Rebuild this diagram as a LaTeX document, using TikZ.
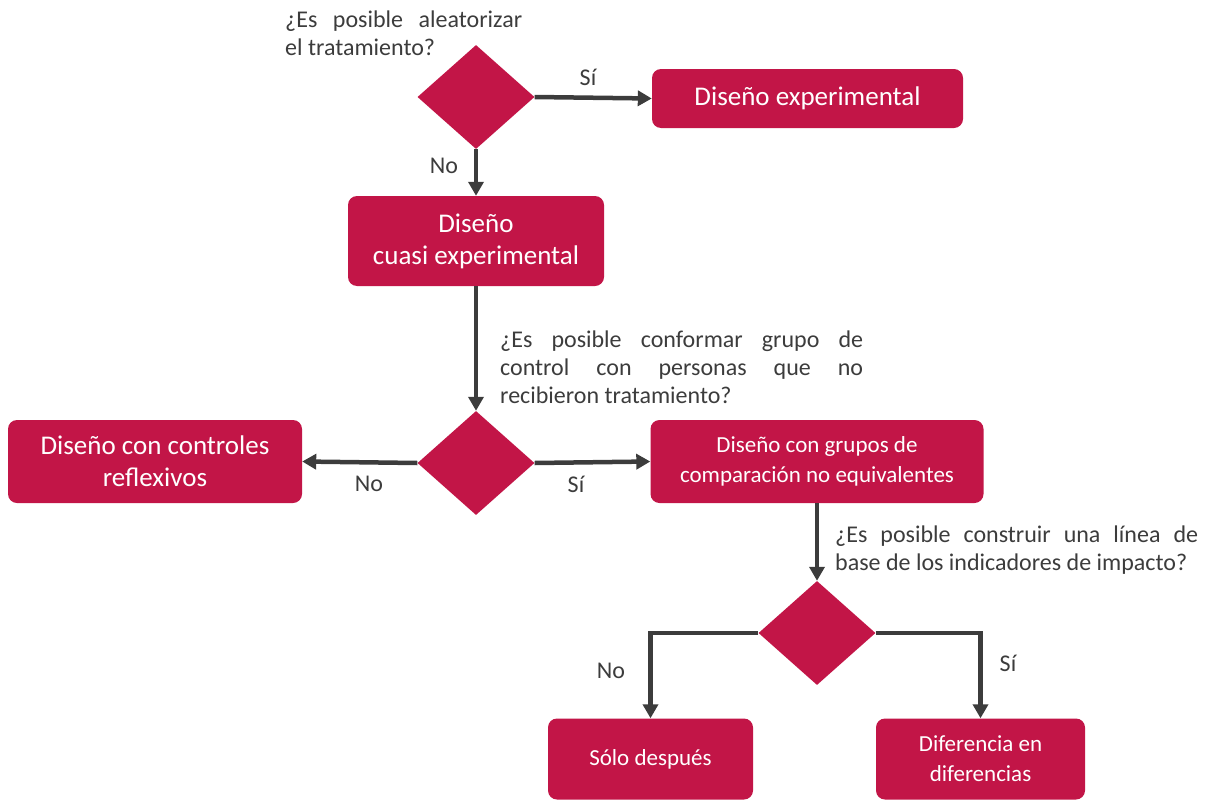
\documentclass[tikz,border=0pt]{standalone}
\usepackage{fontspec}
\setmainfont{Carlito}
\usetikzlibrary{shapes.geometric,arrows.meta}
\definecolor{crim}{HTML}{C21547}
\definecolor{dgray}{HTML}{3C3C3C}
\begin{document}
\begin{tikzpicture}[x=1pt,y=-1pt,
 box/.style={fill=crim, rounded corners=9pt, text=white, align=center, inner sep=0pt},
 bigtxt/.style={font=\fontsize{27}{32}\selectfont},
 smalltxt/.style={font=\fontsize{23}{30}\selectfont},
 dia/.style={diamond, fill=crim, minimum width=117pt, minimum height=104pt, inner sep=0pt},
 conn/.style={draw=dgray, line width=4.5pt, -{Triangle[length=14pt,width=15pt]}},
 lbl/.style={text=dgray, font=\fontsize{24}{28}\selectfont, inner sep=0pt},
 quest/.style={text=dgray, align=justify, inner sep=0pt, font=\fontsize{24}{28}\selectfont, anchor=north west}]
\useasboundingbox (0,0) rectangle (1209,800);
% decisions
\node[dia] (d1) at (476,97) {};
\node[dia] (d2) at (476,463) {};
\node[dia] (d3) at (817,633) {};
% boxes
\node[box,bigtxt,minimum width=311pt,minimum height=59pt] (b1) at (807.5,98.5) {Diseño experimental};
\node[box,bigtxt,minimum width=256pt,minimum height=90pt] (b2) at (476,241) {Diseño\\cuasi experimental};
\node[box,bigtxt,minimum width=294pt,minimum height=83pt] (b3) at (155,461.5) {Diseño con controles\\reflexivos};
\node[box,smalltxt,minimum width=333pt,minimum height=83pt] (b4) at (817,461.5) {Diseño con grupos de\\comparación no equivalentes};
\node[box,smalltxt,minimum width=205pt,minimum height=81pt] (b5) at (650.5,759) {Sólo después};
\node[box,smalltxt,minimum width=209pt,minimum height=81pt] (b6) at (980.5,759) {Diferencia en\\diferencias};
% questions
\node[quest,text width=237pt] (q1) at (285,11) {¿Es posible aleatorizar\linebreak el tratamiento?};
\node[quest,text width=363pt] (q2) at (500,331) {¿Es posible conformar grupo de\linebreak control con personas que no\linebreak recibieron tratamiento?};
\node[quest,text width=363pt] (q3) at (835,526) {¿Es posible construir una línea de\linebreak base de los indicadores de impacto?};
% connectors
\draw[conn] (d1.east) -- (b1.west);
\draw[conn] (d1.south) -- (b2.north);
\draw[conn] (b2.south) -- (d2.north);
\draw[conn] (d2.west) -- (b3.east);
\draw[conn] (d2.east) -- (b4.west);
\draw[conn] (b4.south) -- (d3.north);
\draw[conn] (d3.west) -| (b5.north);
\draw[conn] (d3.east) -| (b6.north);
% labels
\node[lbl] (l1) at (588,77) {Sí};
\node[lbl] (l2) at (444,166) {No};
\node[lbl] (l3) at (369,484) {No};
\node[lbl] (l4) at (576,484) {Sí};
\node[lbl] (l5) at (611,671) {No};
\node[lbl] (l6) at (1008,663) {Sí};
\end{tikzpicture}
\end{document}
